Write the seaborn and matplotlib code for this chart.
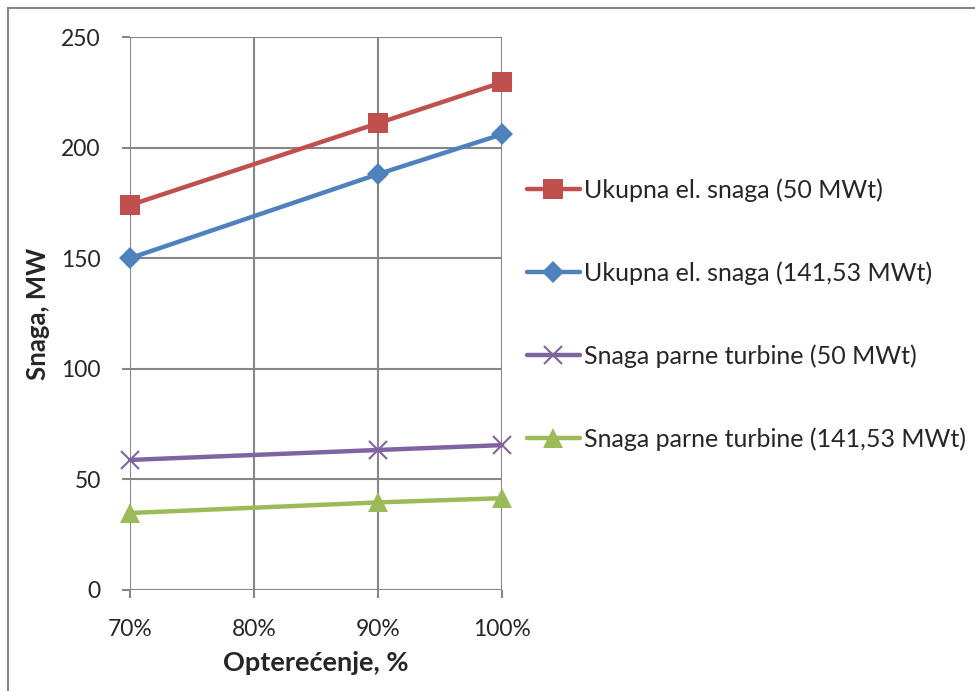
import matplotlib
matplotlib.use("Agg")
import matplotlib.pyplot as plt
import seaborn as sns
import pandas as pd
from matplotlib.patches import Rectangle

load = [70, 90, 100]
series_names = [
    "Ukupna el. snaga (50 MWt)",
    "Ukupna el. snaga (141,53 MWt)",
    "Snaga parne turbine (50 MWt)",
    "Snaga parne turbine (141,53 MWt)",
]
red_vals = [174, 211, 229.5]
blue_vals = [150, 188, 206]
purple_vals = [58.8, 63.3, 65.5]
green_vals = [34.8, 39.6, 41.5]
x_ticks = [70, 80, 90, 100]
x_ticklabels = ["70%", "80%", "90%", "100%"]
y_ticks = [0, 50, 100, 150, 200, 250]

sns.set_theme(style="white")
plt.rcParams["font.family"] = ["Lato", "DejaVu Sans"]

fig = plt.figure(figsize=(9.75, 6.91), dpi=100)
ax = fig.add_axes([130/975, 1 - 590/691, (502-130)/975, (590-37)/691])

colors = ["#C0504D", "#4F81BD", "#8064A2", "#9BBB59"]
markers = ["s", "D", "x", "^"]
msizes = [14.5, 11, 13, 14]
vals = [red_vals, blue_vals, purple_vals, green_vals]

for name, v, c, m, ms in zip(series_names, vals, colors, markers, msizes):
    df = pd.DataFrame({"x": load, "y": v})
    kw = dict(markersize=ms, linewidth=3.2)
    if m == "x":
        kw.update(markeredgewidth=1.5, markeredgecolor=c)
    else:
        kw.update(markeredgewidth=0)
    sns.lineplot(data=df, x="x", y="y", ax=ax, color=c, marker=m, label=name,
                 clip_on=False, zorder=3, **kw)

ax.set_xlim(70, 100)
ax.set_ylim(0, 250)
ax.set_xticks(x_ticks)
ax.set_xticklabels(x_ticklabels)
ax.set_yticks(y_ticks)
ax.grid(True, color="#868686", linewidth=1.5)
for s in ax.spines.values():
    s.set_visible(False)
ax.tick_params(axis="both", which="both", length=6, width=1.5, color="#868686",
               labelsize=16.5, direction="out", bottom=True, left=True)
ax.tick_params(axis="y", pad=15)
ax.tick_params(axis="x", pad=15)
ax.set_xlabel("Opterećenje, %", fontsize=19.5, fontweight="bold", labelpad=8)
ax.set_ylabel("Snaga, MW", fontsize=18.5, fontweight="bold", labelpad=8)

handles, labels = ax.get_legend_handles_labels()
ax.legend_.remove()
fig.legend(handles, labels, loc="upper left", bbox_to_anchor=(527/975, 1 - 178/691),
           frameon=False, fontsize=18, handlelength=2.1, handletextpad=0.16,
           labelspacing=2.38, borderaxespad=0, borderpad=0)

fig.patches.append(Rectangle((8/975, -0.05), 1.05, 1.05 - 8/691, transform=fig.transFigure,
                             fill=False, edgecolor="#868686", linewidth=1.5))

fig.savefig("out.png", dpi=100)
